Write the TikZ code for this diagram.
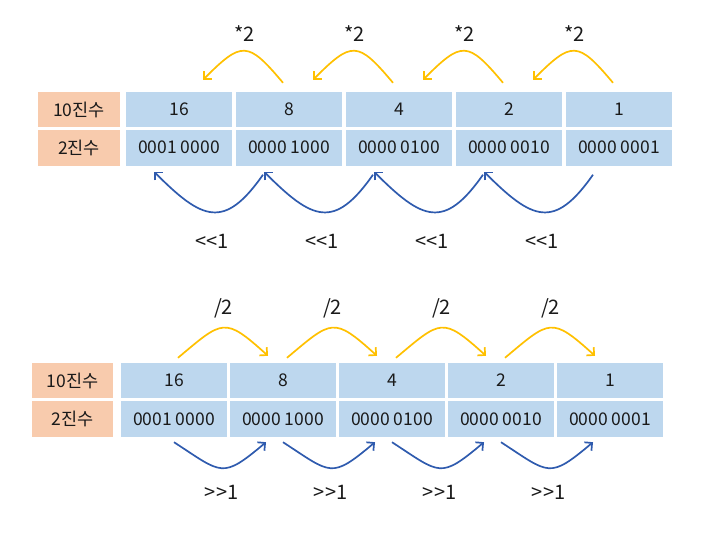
\documentclass[tikz,border=0pt]{standalone}
\usepackage{fontspec}
\setmainfont{Noto Sans CJK KR}
\usepackage{tikz}
\usetikzlibrary{arrows.meta}
\definecolor{cellblue}{HTML}{BDD7EE}
\definecolor{cellpeach}{HTML}{F8CBAD}
\definecolor{mulgold}{HTML}{FFC000}
\definecolor{shiftblue}{HTML}{2F5BAE}
\definecolor{textdark}{HTML}{1A1A1A}

\begin{document}
\begin{tikzpicture}[x=1pt, y=1pt,
  valcell/.style={fill=cellblue, minimum width=106pt, minimum height=35pt, inner sep=0pt, text=textdark, font=\fontsize{17.5}{17.5}\selectfont},
  namecell/.style={valcell, fill=cellpeach, minimum width=82pt},
  goldarrow/.style={mulgold, line width=1.7pt, -{Straight Barb[length=5.5pt, width=11pt]}},
  bluearrow/.style={shiftblue, line width=1.7pt, -{Straight Barb[length=5.5pt, width=11pt]}},
  oplabel/.style={text=textdark, inner sep=0pt, font=\fontsize{20}{20}\selectfont}]
  \useasboundingbox (0,0) rectangle (720,-546);

  % Upper table (multiply / shift left)
  \node[namecell] (tdl) at (79, -109.5) {10진수};
  \node[namecell, minimum height=36pt] (tbl) at (79, -147.5) {2진수};
  \foreach \i/\dec/\bin in {1/16/0001 0000, 2/8/0000 1000, 3/4/0000 0100, 4/2/0000 0010, 5/1/0000 0001} {
    \node[valcell] (td\i) at ({179+110*(\i-1)}, -109.5) {\dec};
    \node[valcell, minimum height=36pt] (tb\i) at ({179+110*(\i-1)}, -147.5) {\bin};
  }

  % Upper arrows
  \foreach \i/\j in {1/2, 2/3, 3/4, 4/5} {
    \draw[goldarrow] ([xshift=-6pt, yshift=9pt]td\j.north) to[out=130, in=45, distance=55pt]
      node[oplabel, above=9pt] (mul\i) {*2} ([xshift=24pt, yshift=12pt]td\i.north);
    \draw[bluearrow] ([xshift=-26pt, yshift=-9pt]tb\j.south) to[out=-125, in=-45, distance=68pt]
      node[oplabel, below=21pt] (shl\i) {<{}<1} ([xshift=-25pt, yshift=-6pt]tb\i.south);
  }

  % Lower table (divide / shift right)
  \node[namecell, minimum width=81pt] (bdl) at (72.5, -380.5) {10진수};
  \node[namecell, minimum width=81pt, minimum height=36pt] (bbl) at (72.5, -419) {2진수};
  \foreach \i/\dec/\bin in {1/16/0001 0000, 2/8/0000 1000, 3/4/0000 0100, 4/2/0000 0010, 5/1/0000 0001} {
    \node[valcell] (bd\i) at ({174+109*(\i-1)}, -380.5) {\dec};
    \node[valcell, minimum height=36pt] (bb\i) at ({174+109*(\i-1)}, -419) {\bin};
  }

  % Lower arrows
  \foreach \i/\j in {1/2, 2/3, 3/4, 4/5} {
    \draw[goldarrow] ([xshift=4pt, yshift=5pt]bd\i.north) to[out=40, in=138, distance=59pt]
      node[oplabel, above=9pt] (div\i) {/2} ([xshift=-15pt, yshift=7pt]bd\j.north);
    \draw[bluearrow] ([yshift=-5pt]bb\i.south) to[out=-33, in=220, distance=58pt]
      node[oplabel, below=16pt] (shr\i) {>{}>1} ([xshift=-17pt, yshift=-5pt]bb\j.south);
  }
\end{tikzpicture}
\end{document}
